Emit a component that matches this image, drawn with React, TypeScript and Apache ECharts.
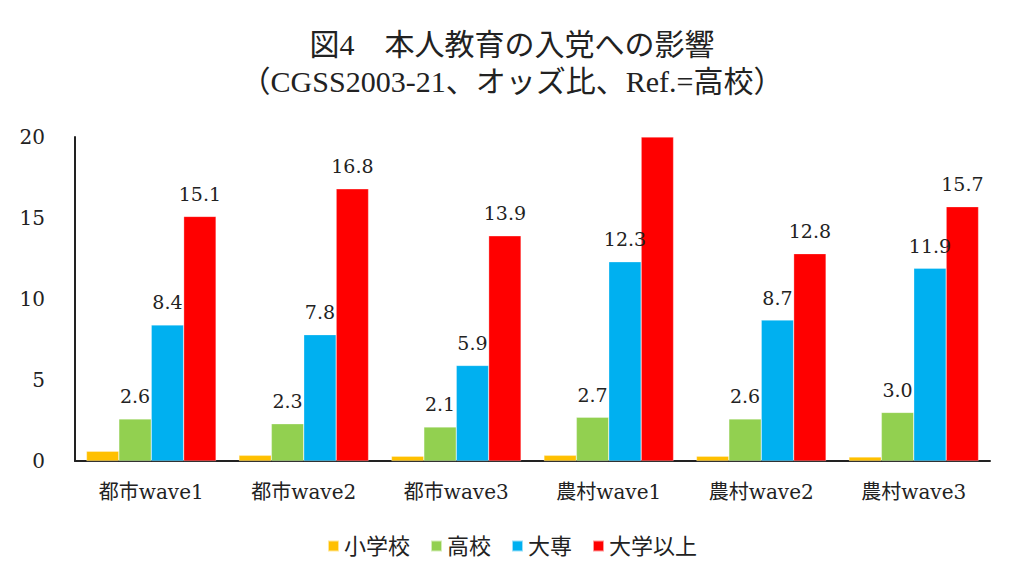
import React, { useEffect, useRef } from "react";
import * as echarts from "echarts";

const categories = ["都市wave1", "都市wave2", "都市wave3", "農村wave1", "農村wave2", "農村wave3"];
const seriesNames = ["小学校", "高校", "大専", "大学以上"];
const primary = [0.6, 0.35, 0.3, 0.35, 0.3, 0.25];
const highSchool = [2.6, 2.3, 2.1, 2.7, 2.6, 3.0];
const juniorCollege = [8.4, 7.8, 5.9, 12.3, 8.7, 11.9];
const university = [15.1, 16.8, 13.9, 20, 12.8, 15.7];
const hiddenLabelIndex = 3; // 農村wave1 大学以上 exceeds axis, no label
const yTicks = [0, 5, 10, 15, 20];

const colors = ["#FFC000", "#92D050", "#00B0F0", "#FF0000"];
const FONT = "'DejaVu Serif', 'Liberation Serif', 'Noto Sans CJK JP', serif";
const TFONT = "'Liberation Serif', 'Noto Sans CJK JP', serif";

export default function App() {
  const ref = useRef<HTMLDivElement>(null);
  useEffect(() => {
    if (!ref.current) return;
    const chart = echarts.init(ref.current, null, { renderer: "svg" });
    const labelStyle = {
      show: true,
      position: "top" as const,
      distance: 13,
      fontFamily: FONT,
      fontSize: 19,
      color: "#222",
      formatter: (p: any) => Number(p.value).toFixed(1),
    };
    const values = [primary, highSchool, juniorCollege, university];
    chart.setOption({
      animation: false,
      backgroundColor: "#fff",
      title: {
        text: "図4　本人教育の入党への影響",
        subtext: "（CGSS2003-21、オッズ比、Ref.=高校）",
        left: "center",
        top: 16,
        itemGap: 8,
        textStyle: { fontFamily: TFONT, fontSize: 30, fontWeight: "normal", color: "#222" },
        subtextStyle: { fontFamily: TFONT, fontSize: 30, color: "#222" },
      },
      legend: {
        bottom: 18,
        left: "center",
        itemWidth: 11,
        itemHeight: 11,
        itemGap: 20,
        icon: "rect",
        textStyle: { fontFamily: FONT, fontSize: 22, color: "#222" },
        data: seriesNames,
      },
      grid: { left: 67, right: 26, top: 129, bottom: 119 },
      xAxis: {
        type: "category",
        data: categories,
        axisLine: { lineStyle: { color: "#222", width: 2 } },
        axisTick: { show: false },
        axisLabel: { fontFamily: FONT, fontSize: 20, color: "#222", margin: 21 },
      },
      yAxis: {
        type: "value",
        min: 0,
        max: 20,
        interval: 5,
        axisLine: { show: true, lineStyle: { color: "#222", width: 2 } },
        axisTick: { show: false },
        splitLine: { show: false },
        axisLabel: {
          fontFamily: FONT,
          fontSize: 20,
          color: "#222",
          margin: 30,
          formatter: (v: number) => (yTicks.includes(v) ? String(v) : ""),
        },
      },
      series: seriesNames.map((name, i) => ({
        name,
        type: "bar",
        barGap: "0%",
        barCategoryGap: "15%",
        itemStyle: { color: colors[i], borderColor: "rgba(255,255,255,0.6)", borderWidth: 0.5 },
        label: i === 0 ? { show: false } : labelStyle,
        data: values[i].map((v, j) =>
          i === 3 && j === hiddenLabelIndex ? { value: v, label: { show: false } } : v
        ),
      })),
    });
    return () => chart.dispose();
  }, []);
  return <div ref={ref} style={{ width: 1008, height: 572 }} />;
}
